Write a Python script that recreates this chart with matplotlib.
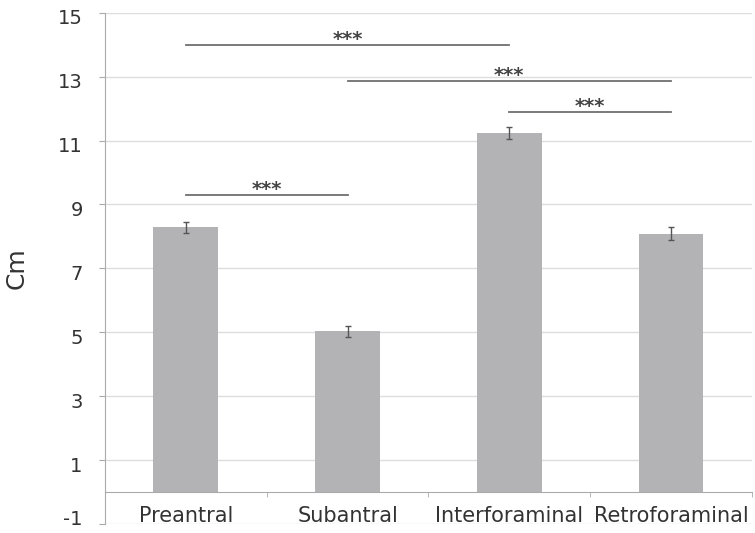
import numpy as np
import matplotlib.pyplot as plt
from matplotlib.transforms import ScaledTranslation

# values
categories = ["Preantral", "Subantral", "Interforaminal", "Retroforaminal"]
means = [8.28, 5.03, 11.23, 8.08]
errors = [0.17, 0.17, 0.19, 0.2]

# significance bars: (from index, to index, height)
sig_pairs = [(0, 2, 14.0), (1, 3, 12.85), (2, 3, 11.9), (0, 1, 9.3)]
sig_label = "***"

y_ticks = list(range(-1, 16, 2))

plt.rcParams['font.family'] = ['DejaVu Sans']
plt.rcParams['axes.unicode_minus'] = False

fig = plt.figure(figsize=(7.55, 5.33), dpi=100)
ax = fig.add_axes([0.139, 0.017, 0.857, 0.959])

x = np.arange(len(categories))
ax.bar(x, means, width=0.4, color="#b3b3b5", zorder=2)
ax.errorbar(x, means, yerr=errors, fmt="none", ecolor="#555555",
            elinewidth=1.0, capsize=2.5, capthick=1.0, zorder=3)

for i, j, h in sig_pairs:
    ax.plot([x[i], x[j]], [h, h], color="#707070", lw=1.3, zorder=3)
    ax.text((x[i] + x[j]) / 2, h - 0.12, sig_label, ha="center", va="bottom",
            fontsize=14, fontweight="bold", color="#444444")

ax.set_xlim(-0.5, len(categories) - 0.5)
ax.set_ylim(-1, 15)
ax.set_yticks(y_ticks)
ax.tick_params(axis="y", labelsize=14, length=4, color="#aaaaaa",
               labelcolor="#333333", pad=12)
ax.yaxis.grid(True, color="#dddddd", lw=1.0, zorder=0)
# labels sit a little below their gridlines, except the bottom one
for val, lab in zip(y_ticks, ax.get_yticklabels()):
    dy = 6 if val == y_ticks[0] else -4
    lab.set_transform(lab.get_transform()
                      + ScaledTranslation(0, dy / 100, fig.dpi_scale_trans))

ax.spines["top"].set_visible(False)
ax.spines["right"].set_visible(False)
ax.spines["left"].set_color("#aaaaaa")
ax.spines["bottom"].set_position(("data", 0))
ax.spines["bottom"].set_color("#aaaaaa")

ax.set_xticks(x)
ax.set_xticklabels(categories, fontsize=15, color="#333333")
ax.set_xticks(np.arange(len(categories) + 1) - 0.5, minor=True)
ax.tick_params(axis="x", which="major", length=0, pad=10)
ax.tick_params(axis="x", which="minor", length=3.5, color="#aaaaaa")

ax.set_ylabel("Cm", fontsize=18, color="#333333")
ax.yaxis.set_label_coords(-0.118, 0.5)

fig.savefig("out.png", dpi=100)
